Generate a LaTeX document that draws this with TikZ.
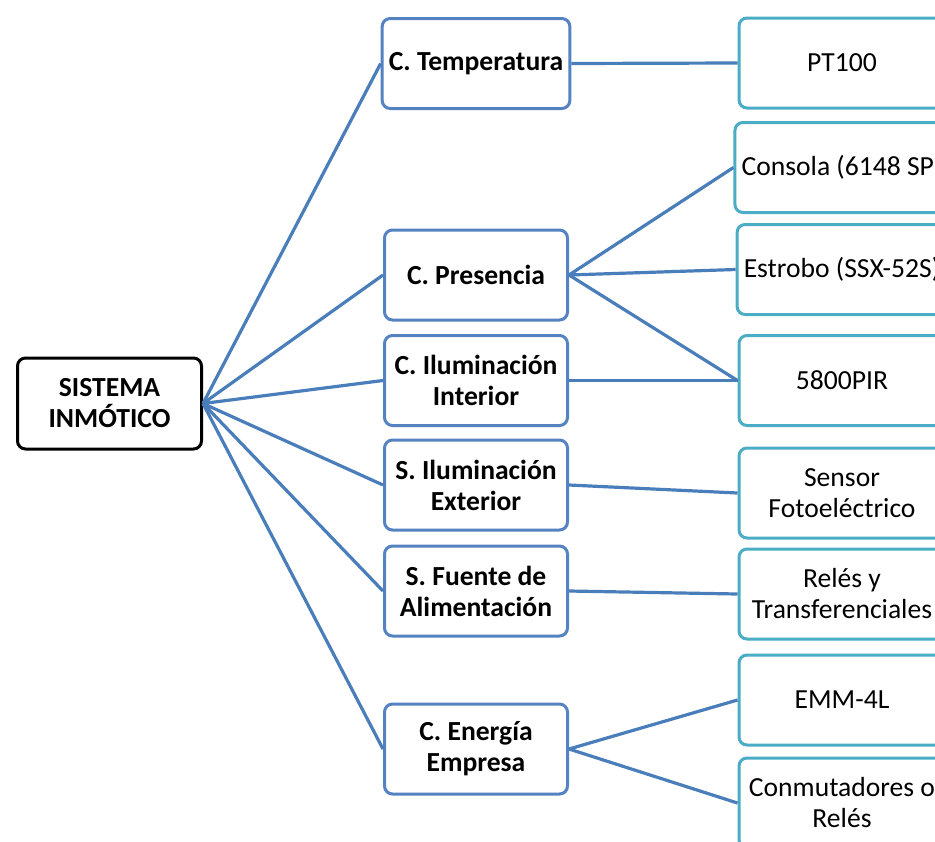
\documentclass[tikz,border=0pt]{standalone}
\usepackage{fontspec}
\setmainfont{Carlito}
\usetikzlibrary{shapes}

\definecolor{linea}{HTML}{4A7EBB}
\definecolor{azul}{HTML}{5582C0}
\definecolor{celeste}{HTML}{4BACC6}

\begin{document}
\begin{tikzpicture}[x=0.5pt,y=-0.5pt]
\tikzstyle{every node}=[rectangle,rounded corners=4pt,line width=1.5pt,fill=white,align=center,font=\fontsize{13.8}{15.5}\selectfont]
\tikzstyle{raiz}=[draw=black,minimum width=92pt,minimum height=45.5pt,font=\fontsize{13.8}{15.5}\selectfont\bfseries]
\tikzstyle{sub}=[draw=azul,minimum width=91.5pt,minimum height=45pt,font=\fontsize{13.8}{15.5}\selectfont\bfseries]
\tikzstyle{hoja}=[draw=celeste,minimum width=103pt,minimum height=45pt]
\tikzstyle{rama}=[draw=linea,line width=1.6pt]
\clip (0,0) rectangle (935,841);
% raiz
\node[raiz] (sis) at (109.5,403.5) {SISTEMA\\INMÓTICO};
% subsistemas
\node[sub] (temp) at (476,63.5) {C. Temperatura};
\node[sub] (pres) at (476,275) {C. Presencia};
\node[sub] (ilint) at (476,380.5) {C. Iluminación\\Interior};
\node[sub] (ilext) at (476,485) {S. Iluminación\\Exterior};
\node[sub] (fuente) at (476,591) {S. Fuente de\\Alimentación};
\node[sub] (energia) at (476,749) {C. Energía\\Empresa};
% dispositivos
\node[hoja] (pt) at (842,63) {PT100};
\node[hoja] (consola) at (842,167.5) {Consola (6148 SP)};
\node[hoja] (estrobo) at (842,269.5) {Estrobo (SSX-52S)};
\node[hoja] (pir) at (842,380.5) {5800PIR};
\node[hoja] (sensor) at (842,493) {Sensor\\Fotoeléctrico};
\node[hoja] (reles) at (842,594) {Relés y\\Transferenciales};
\node[hoja] (emm) at (842,700) {EMM-4L};
\node[hoja] (conm) at (842,803) {Conmutadores o\\Relés};
% ramas
\foreach \s in {temp,pres,ilint,ilext,fuente,energia}
  \draw[rama] (sis.east) -- (\s.west);
\draw[rama] (temp.east) -- (pt.west);
\draw[rama] (pres.east) -- (consola.west);
\draw[rama] (pres.east) -- (estrobo.west);
\draw[rama] (pres.east) -- (pir.west);
\draw[rama] (ilint.east) -- (pir.west);
\draw[rama] (ilext.east) -- (sensor.west);
\draw[rama] (fuente.east) -- (reles.west);
\draw[rama] (energia.east) -- (emm.west);
\draw[rama] (energia.east) -- (conm.west);
\end{tikzpicture}
\end{document}
